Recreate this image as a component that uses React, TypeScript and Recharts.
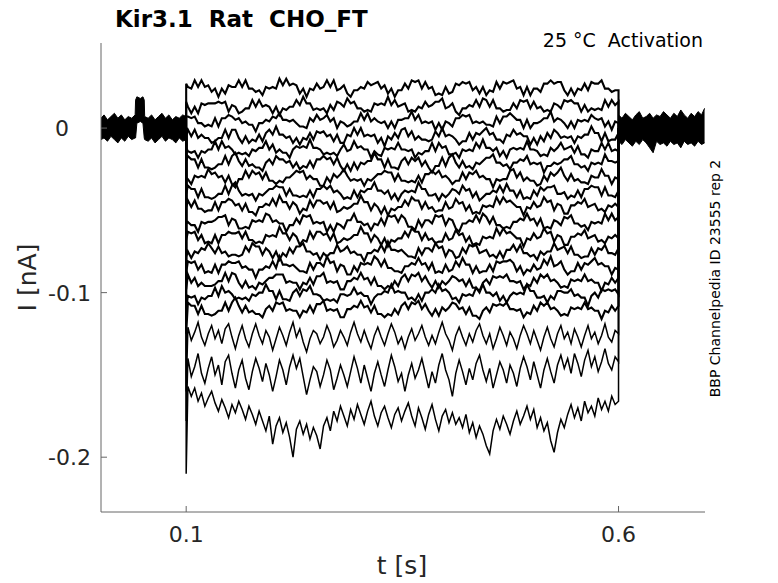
import { ComposedChart, Line, Area, XAxis, YAxis } from "recharts"

// Kir3.1 activation sweeps, current in pA, time in s
const stepStart = 0.1
const stepEnd = 0.6
const firstSample = 0.102
const nSamples = 128
const sampleTimes = Array.from(
    { length: nSamples },
    (_, i) => firstSample + (i * (stepEnd - firstSample)) / (nSamples - 1)
)

// value right at the voltage step (capacitive transient)
const onsets = [27, 16, 7, -4, -12, -20, -30, -40, -48, -58, -68, -78, -88, -98, -110, -125, -160, -178, -210]

const sweep01 = [
    25, 24, 29, 25, 29, 25, 26, 22, 24, 19, 24, 21, 26, 25, 25, 29,
    25, 29, 24, 24, 22, 23, 20, 25, 24, 25, 24, 30, 26, 30, 26, 27,
    26, 21, 24, 19, 24, 23, 27, 24, 25, 29, 25, 29, 23, 24, 26, 21,
    19, 23, 23, 25, 24, 28, 26, 27, 28, 24, 26, 21, 24, 19, 23, 23,
    27, 24, 29, 28, 29, 24, 28, 24, 25, 20, 21, 20, 25, 21, 22, 27,
    26, 28, 27, 28, 23, 25, 21, 25, 20, 23, 22, 28, 24, 28, 27, 28,
    29, 24, 25, 20, 25, 20, 24, 24, 22, 27, 27, 29, 27, 28, 28, 23,
    20, 24, 20, 24, 23, 27, 23, 28, 27, 27, 29, 24, 24, 22, 23, 23,
]
const sweep02 = [
    13, 9, 13, 9, 15, 14, 15, 15, 15, 16, 15, 16, 10, 14, 13, 9,
    10, 12, 12, 17, 13, 17, 13, 14, 13, 9, 13, 8, 12, 11, 13, 13,
    17, 14, 19, 15, 15, 11, 12, 11, 12, 9, 14, 11, 16, 15, 13, 18,
    15, 16, 12, 12, 10, 11, 10, 15, 14, 15, 14, 19, 14, 17, 13, 14,
    15, 10, 11, 10, 13, 12, 16, 13, 14, 16, 16, 18, 12, 13, 15, 10,
    8, 12, 12, 14, 13, 17, 13, 18, 17, 13, 17, 12, 12, 10, 11, 11,
    15, 12, 17, 16, 17, 12, 16, 12, 13, 10, 11, 10, 15, 14, 12, 17,
    16, 17, 15, 15, 10, 14, 10, 12, 11, 12, 11, 17, 13, 17, 14, 16,
]
const sweep03 = [
    7, 6, 7, 3, 3, 1, 2, 1, 6, 1, 6, 6, 8, 7, 5, 6,
    3, 4, 2, 2, -2, 3, 3, 5, 4, 7, 6, 9, 5, 5, 4, 5,
    3, 1, 1, 0, 6, 4, 8, 5, 6, 8, 4, 6, 0, 4, 3, 1,
    2, 4, 4, 9, 5, 9, 4, 6, 4, 3, 4, 0, 4, 0, 5, 5,
    6, 6, 10, 5, 8, 3, 4, 3, 4, -1, 3, -1, 4, 3, 1, 6,
    6, 8, 7, 8, 3, 4, 3, 4, 2, 2, 1, 7, 3, 7, 7, 9,
    7, 5, 5, 0, 5, 0, 3, 3, 4, 6, 6, 10, 4, 6, 5, 3,
    0, 4, 0, 5, 4, 5, 4, 8, 6, 5, 6, 1, 4, -1, 4, 3,
]
const sweep04 = [
    -1, -5, -1, -6, -4, -6, -6, -9, -8, -6, -6, -1, -6, -1, -1, -6,
    -9, -5, -9, -7, -8, -4, -8, -3, -1, -4, 1, -4, -4, -6, -5, -9,
    -6, -10, -6, -7, -3, -7, -2, -3, -2, -5, -4, -8, -4, -9, -9, -4,
    -5, 0, -4, 0, -5, -4, -5, -4, -9, -6, -11, -5, -7, -3, -6, -1,
    0, -5, -2, -7, -5, -7, -7, -8, -7, -2, -5, 0, -5, -4, -5, -7,
    -10, -8, -8, -3, -7, -3, -4, -2, 0, -4, -3, -7, -7, -9, -4, -5,
    -1, -4, -3, -5, -5, -10, -6, -10, -5, -8, -3, -6, -1, -3, -6, -5,
    -6, -5, -9, -5, -6, -4, -4, 1, -3, -3, -8, -3, -8, -7, -7, -3,
]
const sweep05 = [
    -14, -15, -14, -18, -14, -15, -13, -13, -8, -13, -8, -12, -11, -13, -16, -15,
    -16, -15, -17, -13, -14, -12, -12, -8, -13, -10, -15, -13, -15, -15, -18, -13,
    -11, -12, -11, -12, -7, -12, -12, -13, -16, -15, -16, -15, -17, -13, -10, -14,
    -13, -8, -12, -11, -13, -13, -18, -14, -16, -17, -12, -13, -12, -13, -9, -13,
    -13, -14, -13, -18, -15, -16, -14, -14, -9, -14, -9, -12, -11, -16, -16, -15,
    -18, -13, -14, -13, -14, -9, -12, -7, -12, -12, -14, -12, -17, -14, -18, -13,
    -12, -13, -12, -13, -8, -13, -13, -14, -17, -16, -17, -12, -14, -12, -9, -13,
    -12, -11, -15, -11, -16, -16, -18, -13, -14, -14, -9, -13, -9, -14, -13, -14,
]
const sweep06 = [
    -17, -19, -19, -24, -19, -24, -24, -25, -24, -22, -22, -17, -22, -17, -15, -20,
    -23, -19, -23, -22, -24, -24, -26, -21, -19, -22, -17, -19, -19, -21, -20, -24,
    -21, -25, -23, -24, -20, -24, -19, -19, -17, -19, -18, -22, -18, -23, -26, -22,
    -26, -21, -25, -21, -22, -20, -20, -15, -19, -19, -24, -19, -24, -24, -25, -20,
    -18, -22, -18, -20, -18, -23, -20, -24, -27, -23, -23, -18, -23, -18, -16, -21,
    -24, -20, -24, -23, -25, -21, -22, -20, -18, -18, -16, -21, -21, -23, -22, -25,
    -21, -21, -19, -20, -17, -22, -21, -22, -21, -27, -23, -23, -21, -22, -21, -19,
    -19, -17, -22, -22, -24, -23, -26, -21, -22, -21, -22, -16, -20, -20, -21, -20,
]
const sweep07 = [
    -31, -34, -29, -30, -29, -30, -25, -28, -27, -30, -29, -33, -29, -34, -36, -31,
    -31, -26, -30, -26, -28, -27, -31, -27, -32, -32, -34, -32, -33, -30, -30, -28,
    -26, -27, -26, -31, -29, -31, -31, -35, -35, -30, -33, -28, -30, -28, -25, -29,
    -32, -31, -32, -31, -35, -31, -32, -30, -28, -28, -26, -27, -27, -32, -28, -32,
    -32, -33, -32, -33, -29, -33, -28, -28, -26, -28, -26, -30, -29, -31, -34, -32,
    -32, -27, -31, -27, -28, -26, -30, -29, -31, -31, -36, -31, -32, -31, -31, -26,
    -25, -30, -27, -32, -30, -32, -32, -35, -34, -29, -32, -27, -29, -27, -24, -29,
    -32, -28, -32, -31, -33, -33, -34, -29, -30, -30, -25, -29, -29, -34, -30, -31,
]
const sweep08 = [
    -35, -37, -37, -42, -37, -42, -42, -43, -42, -40, -40, -35, -40, -35, -33, -38,
    -41, -40, -41, -40, -44, -40, -41, -39, -37, -37, -35, -36, -36, -41, -37, -41,
    -41, -42, -41, -42, -38, -42, -37, -37, -35, -37, -35, -39, -38, -40, -43, -42,
    -43, -38, -42, -38, -39, -37, -37, -33, -38, -38, -40, -38, -43, -40, -44, -40,
    -38, -39, -38, -39, -33, -37, -37, -41, -41, -40, -44, -40, -42, -40, -37, -38,
    -40, -35, -38, -37, -42, -39, -44, -42, -40, -40, -38, -39, -35, -39, -34, -38,
    -38, -42, -38, -43, -42, -43, -38, -41, -36, -38, -36, -36, -35, -40, -40, -39,
    -43, -41, -42, -38, -42, -37, -37, -35, -36, -36, -41, -36, -41, -41, -42, -38,
]
const sweep09 = [
    -44, -48, -44, -49, -49, -51, -50, -50, -45, -50, -45, -45, -43, -44, -47, -46,
    -50, -46, -51, -51, -53, -48, -48, -46, -47, -43, -47, -41, -45, -45, -49, -45,
    -47, -52, -49, -50, -44, -48, -44, -44, -46, -45, -49, -45, -51, -50, -48, -49,
    -48, -46, -46, -41, -45, -45, -50, -46, -48, -52, -48, -53, -49, -50, -48, -48,
    -44, -47, -42, -44, -44, -49, -45, -49, -48, -51, -50, -50, -45, -49, -48, -43,
    -46, -45, -50, -47, -52, -51, -52, -47, -48, -47, -48, -42, -46, -42, -45, -44,
    -46, -48, -48, -53, -48, -49, -45, -48, -47, -42, -45, -44, -50, -46, -47, -52,
    -52, -47, -47, -45, -46, -43, -48, -47, -46, -50, -49, -51, -47, -48, -46, -48,
]
const sweep10 = [
    -57, -59, -59, -63, -57, -58, -57, -57, -56, -54, -54, -53, -59, -55, -56, -61,
    -61, -60, -61, -56, -57, -56, -57, -52, -53, -57, -56, -58, -58, -63, -59, -59,
    -55, -58, -53, -54, -53, -58, -57, -58, -57, -63, -59, -63, -58, -59, -61, -56,
    -56, -52, -57, -57, -59, -58, -62, -58, -59, -55, -59, -53, -54, -53, -57, -53,
    -55, -60, -60, -62, -56, -60, -56, -56, -58, -53, -54, -53, -59, -55, -56, -61,
    -63, -58, -58, -56, -57, -53, -57, -52, -54, -58, -54, -59, -59, -61, -60, -61,
    -57, -57, -55, -56, -52, -56, -55, -59, -55, -61, -60, -61, -56, -57, -59, -54,
    -55, -53, -58, -58, -60, -59, -62, -57, -58, -57, -58, -52, -56, -52, -56, -54,
]
const sweep11 = [
    -63, -64, -63, -68, -65, -70, -69, -70, -65, -70, -65, -65, -63, -64, -64, -63,
    -67, -63, -68, -68, -70, -69, -70, -65, -66, -65, -66, -60, -64, -64, -68, -64,
    -66, -71, -68, -69, -63, -67, -63, -63, -65, -64, -68, -64, -70, -69, -67, -68,
    -67, -65, -65, -60, -64, -64, -69, -65, -67, -71, -67, -72, -68, -69, -67, -67,
    -63, -66, -61, -63, -63, -68, -64, -68, -67, -70, -69, -69, -64, -68, -67, -62,
    -65, -64, -69, -66, -71, -70, -71, -66, -67, -66, -67, -61, -65, -61, -64, -63,
    -65, -67, -67, -72, -67, -68, -64, -67, -66, -61, -64, -63, -69, -65, -66, -71,
    -71, -66, -66, -64, -65, -62, -67, -66, -65, -69, -68, -70, -66, -67, -65, -67,
]
const sweep12 = [
    -75, -79, -75, -76, -73, -74, -70, -73, -76, -72, -76, -75, -78, -77, -77, -78,
    -77, -72, -75, -70, -72, -72, -77, -73, -75, -79, -75, -80, -76, -78, -73, -76,
    -72, -72, -70, -75, -75, -77, -76, -80, -76, -78, -76, -76, -71, -75, -74, -72,
    -76, -75, -77, -77, -81, -76, -76, -74, -75, -71, -75, -69, -74, -74, -75, -74,
    -76, -78, -78, -79, -73, -77, -73, -73, -75, -70, -73, -72, -78, -74, -75, -79,
    -78, -73, -76, -71, -72, -71, -76, -75, -74, -78, -77, -79, -75, -79, -74, -74,
    -71, -75, -71, -76, -76, -78, -77, -80, -75, -77, -75, -75, -70, -74, -73, -72,
    -76, -72, -77, -77, -79, -78, -78, -73, -77, -73, -74, -71, -76, -76, -77, -73,
]
const sweep13 = [
    -81, -82, -81, -86, -83, -88, -87, -88, -83, -88, -83, -83, -81, -82, -82, -81,
    -85, -84, -86, -86, -91, -86, -86, -84, -85, -81, -85, -78, -83, -83, -84, -83,
    -85, -87, -87, -88, -82, -86, -82, -82, -84, -78, -82, -81, -87, -83, -84, -89,
    -89, -84, -87, -82, -83, -82, -83, -78, -80, -84, -80, -85, -85, -87, -87, -88,
    -84, -84, -82, -83, -79, -83, -82, -86, -82, -88, -87, -88, -83, -87, -86, -81,
    -84, -79, -83, -83, -88, -84, -88, -87, -87, -83, -87, -81, -82, -81, -81, -80,
    -82, -87, -84, -89, -86, -87, -83, -86, -85, -80, -83, -78, -84, -83, -81, -86,
    -89, -87, -87, -82, -86, -82, -83, -81, -79, -83, -82, -84, -84, -89, -85, -86,
]
const sweep14 = [
    -89, -94, -91, -96, -94, -96, -96, -96, -95, -93, -93, -88, -93, -88, -89, -94,
    -97, -93, -97, -96, -98, -94, -95, -93, -91, -91, -89, -89, -89, -94, -93, -94,
    -94, -98, -94, -95, -91, -95, -90, -90, -88, -94, -93, -94, -93, -98, -98, -93,
    -93, -91, -92, -88, -92, -91, -95, -91, -96, -96, -98, -96, -97, -93, -96, -91,
    -89, -93, -89, -90, -88, -93, -90, -94, -97, -93, -97, -93, -95, -93, -90, -91,
    -93, -92, -96, -92, -97, -97, -99, -94, -92, -95, -90, -91, -90, -91, -89, -93,
    -93, -94, -93, -98, -95, -96, -91, -94, -89, -91, -89, -93, -92, -94, -97, -96,
    -97, -92, -93, -92, -93, -89, -93, -92, -94, -94, -99, -94, -95, -91, -94, -91,
]
const sweep15 = [
    -102, -103, -102, -107, -103, -104, -102, -102, -97, -102, -96, -100, -99, -101, -104, -103,
    -104, -103, -105, -101, -102, -100, -100, -95, -99, -99, -104, -99, -104, -104, -105, -100,
    -98, -102, -98, -99, -96, -101, -101, -102, -105, -104, -105, -104, -106, -101, -101, -102,
    -101, -97, -101, -100, -102, -102, -107, -103, -101, -101, -99, -100, -95, -100, -99, -100,
    -100, -104, -103, -105, -101, -105, -100, -100, -98, -100, -95, -99, -98, -100, -104, -103,
    -106, -101, -102, -101, -102, -97, -100, -95, -100, -100, -102, -100, -105, -102, -106, -102,
    -100, -101, -100, -101, -95, -99, -99, -103, -103, -102, -106, -102, -104, -99, -99, -100,
    -100, -98, -102, -101, -103, -103, -108, -102, -100, -103, -98, -99, -98, -99, -98, -101,
]
const sweep16 = [
    -106, -108, -108, -113, -108, -113, -113, -114, -113, -111, -111, -106, -111, -106, -103, -108,
    -112, -108, -112, -111, -113, -113, -115, -110, -108, -111, -106, -107, -106, -111, -110, -111,
    -111, -115, -111, -112, -108, -112, -107, -107, -105, -111, -110, -111, -110, -115, -115, -110,
    -110, -108, -109, -105, -109, -108, -112, -108, -113, -113, -115, -113, -114, -110, -113, -108,
    -106, -110, -106, -107, -105, -110, -107, -111, -114, -110, -114, -109, -111, -109, -106, -107,
    -110, -109, -113, -109, -114, -114, -116, -111, -109, -112, -107, -108, -107, -108, -106, -110,
    -110, -111, -110, -115, -112, -113, -108, -111, -106, -108, -106, -110, -109, -111, -114, -113,
    -114, -109, -110, -109, -110, -106, -110, -109, -111, -111, -116, -111, -112, -108, -111, -108,
]
const sweep17 = [
    -121, -129, -124, -118, -127, -132, -125, -120, -128, -123, -131, -122, -119, -127, -134, -126,
    -120, -128, -133, -125, -119, -126, -131, -123, -127, -135, -128, -121, -126, -132, -124, -118,
    -127, -122, -130, -136, -128, -123, -125, -131, -127, -120, -125, -133, -129, -123, -127, -132,
    -124, -118, -125, -130, -123, -129, -134, -126, -121, -127, -132, -125, -119, -124, -131, -127,
    -134, -127, -122, -129, -125, -120, -127, -132, -126, -131, -124, -118, -125, -129, -135, -126,
    -121, -127, -132, -125, -130, -123, -119, -126, -131, -125, -134, -128, -121, -126, -132, -124,
    -128, -134, -126, -120, -125, -131, -123, -129, -135, -127, -121, -128, -133, -125, -120, -128,
    -124, -131, -122, -127, -133, -126, -120, -128, -124, -131, -126, -119, -127, -130, -123, -125,
]
const sweep18 = [
    -140, -151, -145, -137, -149, -155, -146, -139, -150, -144, -156, -142, -138, -149, -158, -147,
    -141, -152, -159, -148, -140, -146, -154, -143, -150, -160, -151, -141, -147, -156, -145, -138,
    -146, -140, -151, -162, -153, -145, -148, -157, -150, -141, -147, -159, -152, -144, -150, -157,
    -148, -139, -146, -155, -144, -152, -160, -149, -142, -150, -157, -147, -138, -145, -154, -149,
    -160, -150, -143, -152, -147, -140, -149, -158, -148, -155, -144, -137, -147, -153, -163, -149,
    -141, -148, -156, -146, -153, -143, -138, -147, -154, -146, -158, -150, -142, -147, -155, -144,
    -149, -157, -146, -139, -145, -153, -142, -150, -158, -147, -140, -148, -155, -144, -138, -146,
    -140, -149, -137, -143, -151, -141, -135, -145, -139, -148, -142, -134, -143, -147, -139, -142,
]
const sweep19 = [
    -157, -163, -158, -166, -161, -169, -164, -160, -167, -172, -165, -170, -176, -168, -173, -166,
    -171, -177, -169, -174, -180, -172, -178, -184, -175, -192, -181, -176, -185, -179, -188, -200,
    -183, -178, -186, -180, -189, -182, -187, -195, -181, -176, -184, -172, -178, -169, -175, -181,
    -171, -177, -168, -174, -180, -172, -166, -175, -181, -173, -169, -176, -182, -174, -170, -178,
    -172, -167, -175, -181, -170, -176, -183, -174, -168, -177, -184, -175, -171, -179, -173, -180,
    -176, -182, -174, -185, -179, -188, -181, -186, -193, -198, -184, -177, -183, -175, -180, -186,
    -178, -172, -180, -175, -169, -177, -171, -182, -176, -184, -179, -190, -197, -185, -177, -182,
    -174, -168, -176, -170, -178, -166, -173, -169, -175, -164, -171, -166, -172, -163, -168, -166,
]

const sweeps = [
    sweep01, sweep02, sweep03, sweep04, sweep05, sweep06, sweep07, sweep08, sweep09, sweep10,
    sweep11, sweep12, sweep13, sweep14, sweep15, sweep16, sweep17, sweep18, sweep19,
]

// holding-potential segments: all sweeps overlap into one noisy band (low / high envelope)
const preTimes = [
    0.0015, 0.005, 0.009, 0.013, 0.017, 0.021, 0.025, 0.029, 0.033, 0.037, 0.041,
    0.0415, 0.043, 0.047, 0.05, 0.0515,
    0.052, 0.056, 0.06, 0.064, 0.068, 0.072, 0.076, 0.08, 0.084, 0.088, 0.092, 0.096, 0.1,
]
const preHigh = [6, 8, 5, 7, 9, 6, 8, 5, 7, 6, 8, 17, 19, 18, 19, 17, 7, 6, 8, 5, 7, 9, 6, 8, 5, 7, 6, 8, 7]
const preLow = [-7, -6, -8, -5, -7, -9, -6, -8, -5, -7, -6, -6, 3, 4, 3, -6, -7, -8, -6, -9, -7, -5, -8, -6, -7, -9, -6, -8, -7]

const postTimes = [
    0.6, 0.604, 0.608, 0.612, 0.616, 0.62, 0.624, 0.628, 0.632, 0.636, 0.64, 0.644, 0.648,
    0.652, 0.656, 0.66, 0.664, 0.668, 0.672, 0.676, 0.68, 0.684, 0.688, 0.692, 0.696, 0.6995,
]
const postHigh = [8, 6, 9, 7, 5, 8, 10, 6, 7, 9, 6, 8, 7, 10, 8, 6, 9, 7, 11, 8, 6, 9, 7, 10, 8, 12]
const postLow = [-8, -10, -7, -9, -11, -8, -10, -7, -9, -12, -15, -8, -10, -9, -11, -8, -10, -9, -12, -8, -10, -9, -11, -8, -10, -9]

const xTicks = [0.1, 0.6]
const xTickLabels = ["0.1", "0.6"]
const yTicks = [-200, -100, 0]
const yTickLabels = ["-0.2", "-0.1", "0"]

const font = "DejaVu Sans"
const axisColor = "#666"
const labelColor = "#262626"

const sweepData = sweeps.map((vals, k) => [
    { t: stepStart, i: 0 },
    { t: stepStart, i: onsets[k] },
    ...vals.slice(0, nSamples).map((v, j) => ({ t: sampleTimes[j], i: v })),
    { t: stepEnd, i: vals[Math.min(vals.length, nSamples) - 1] },
    { t: stepEnd, i: 0 },
])
const preBand = preTimes.map((t, j) => ({ t, band: [preLow[j], preHigh[j]] }))
const postBand = postTimes.map((t, j) => ({ t, band: [postLow[j], postHigh[j]] }))

const XTick = ({ x, y, payload }: any) => (
    <g>
        <line x1={x} x2={x} y1={y} y2={y - 6} stroke={axisColor} />
        <text x={x} y={y + 30} textAnchor="middle" fontSize={22} fontFamily={font} fill={labelColor}>
            {xTickLabels[xTicks.indexOf(payload.value)]}
        </text>
    </g>
)

const YTick = ({ x, y, payload }: any) => {
    const label = yTickLabels[yTicks.indexOf(payload.value)]
    return (
        <g>
            <line x1={x} x2={x + 6} y1={y} y2={y} stroke={axisColor} />
            <text
                x={label === "0" ? x - 32 : x - 10}
                y={y}
                dy="0.36em"
                textAnchor="end"
                fontSize={22}
                fontFamily={font}
                fill={labelColor}
            >
                {label}
            </text>
        </g>
    )
}

export default function App() {
    return (
        <div style={{ position: "absolute", left: 0, top: 0, width: 778, height: 583, background: "#fff" }}>
            <ComposedChart width={778} height={583} margin={{ top: 43, right: 73, bottom: 0, left: 0 }}>
                <XAxis
                    type="number"
                    dataKey="t"
                    domain={[0.0015, 0.7]}
                    allowDataOverflow
                    ticks={xTicks}
                    tick={<XTick />}
                    tickLine={false}
                    tickSize={0}
                    tickMargin={0}
                    height={71}
                    axisLine={{ stroke: axisColor }}
                />
                <YAxis
                    type="number"
                    domain={[-233.3, 51.7]}
                    allowDataOverflow
                    ticks={yTicks}
                    tick={<YTick />}
                    tickLine={false}
                    tickSize={0}
                    tickMargin={0}
                    width={101}
                    axisLine={{ stroke: axisColor }}
                />
                <Area
                    data={preBand}
                    dataKey="band"
                    type="linear"
                    stroke="#000"
                    strokeWidth={1}
                    fill="#000"
                    fillOpacity={1}
                    isAnimationActive={false}
                />
                <Area
                    data={postBand}
                    dataKey="band"
                    type="linear"
                    stroke="#000"
                    strokeWidth={1}
                    fill="#000"
                    fillOpacity={1}
                    isAnimationActive={false}
                />
                {sweepData.map((d, k) => (
                    <Line
                        key={k}
                        data={d}
                        dataKey="i"
                        type="linear"
                        stroke="#000"
                        strokeWidth={k < 16 ? 2.1 : 1.5}
                        dot={false}
                        activeDot={false}
                        isAnimationActive={false}
                    />
                ))}
            </ComposedChart>
            <svg
                width={778}
                height={583}
                style={{ position: "absolute", left: 0, top: 0, pointerEvents: "none" }}
                fontFamily={font}
            >
                <text x={115} y={27} fontSize={23} fontWeight="bold" fill="#000" style={{ whiteSpace: "pre" }}>
                    Kir3.1  Rat  CHO_FT
                </text>
                <text x={703} y={47} fontSize={19} textAnchor="end" fill="#000" style={{ whiteSpace: "pre" }}>
                    25 °C  Activation
                </text>
                <text x={402} y={574} fontSize={25} textAnchor="middle" fill={labelColor}>
                    t [s]
                </text>
                <text x={35.5} y={277.5} fontSize={25} textAnchor="middle" fill={labelColor} transform="rotate(-90 35.5 277.5)">
                    I [nA]
                </text>
                <text x={720} y={278.5} fontSize={14} textAnchor="middle" fill="#000" transform="rotate(-90 720 278.5)">
                    BBP Channelpedia ID 23555 rep 2
                </text>
            </svg>
        </div>
    )
}
